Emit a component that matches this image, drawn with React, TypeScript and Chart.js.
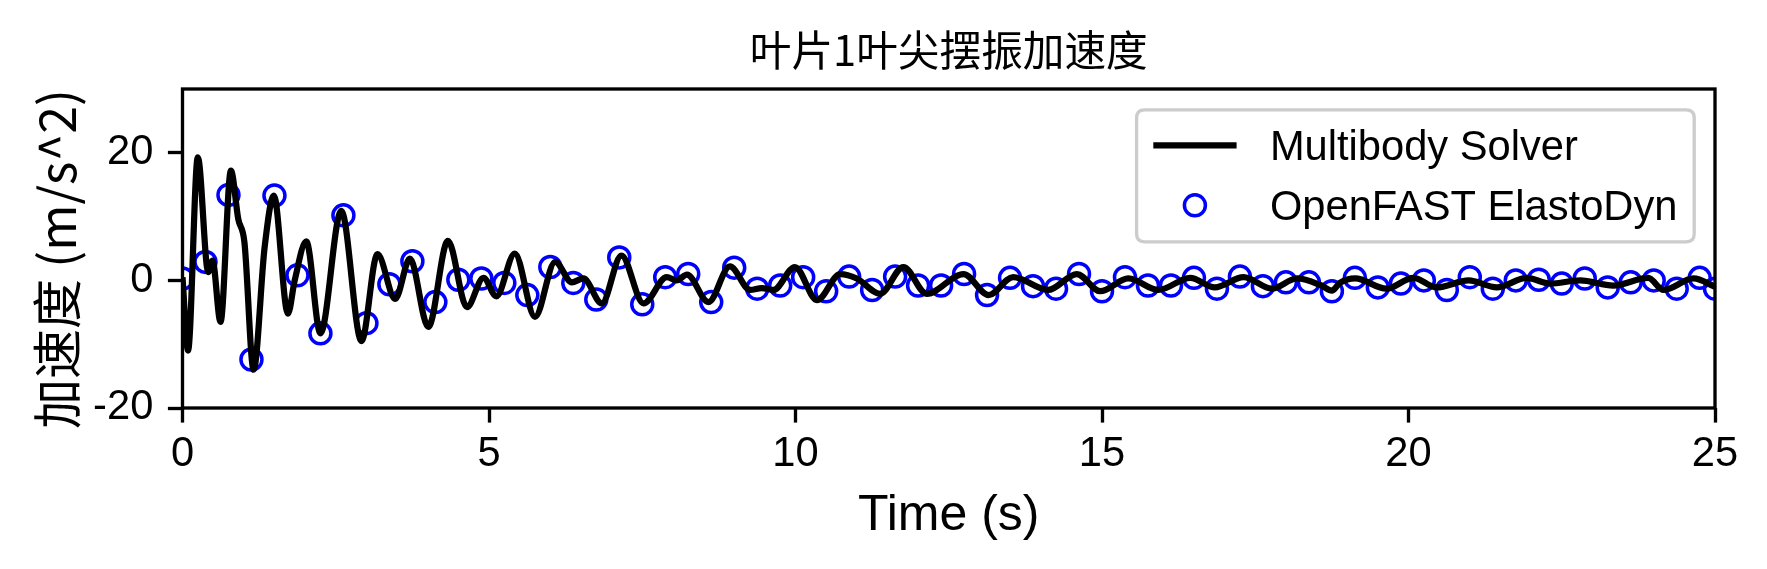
import React, { useEffect, useRef } from "react";
import { Chart, registerables } from "chart.js";

Chart.register(...registerables);

const titleText = "叶片1叶尖摆振加速度";
const xLabel = "Time (s)";
const yLabel = "加速度 (m/s^2)";
const lineLabel = "Multibody Solver";
const scatterLabel = "OpenFAST ElastoDyn";

const xTicks = [0, 5, 10, 15, 20, 25];
const yTicks = [-20, 0, 20];

const lineTime = [
  0, 0.09, 0.25, 0.42, 0.49, 0.62, 0.79, 0.91, 1.01, 1.16,
  1.34, 1.49, 1.72, 1.83, 2.02, 2.25, 2.59, 2.92, 3.18, 3.47,
  3.71, 4.01, 4.33, 4.64, 4.91, 5.12, 5.42, 5.75, 6.08, 6.35,
  6.54, 6.84, 7.16, 7.52, 7.9, 8.06, 8.23, 8.58, 8.93, 9.26,
  9.45, 9.64, 9.99, 10.35, 10.73, 11.0, 11.38, 11.76, 12.14, 12.74,
  13.15, 13.55, 14.12, 14.59, 14.97, 15.43, 15.92, 16.44, 16.84, 17.31,
  17.77, 18.18, 18.58, 18.75, 18.88, 19.13, 19.64, 20.08, 20.46, 20.98,
  21.44, 21.93, 22.31, 22.8, 23.34, 23.91, 24.16, 24.65, 25.0,
];
const lineAccel = [
  0.5, -11, 19.3, 1.3, 3.1, -6.5, 17.2, 9.6, 6.0, -14,
  5.2, 13.3, -5.2, 0, 6.1, -8.3, 10.9, -9.5, 4.1, -2.9,
  3.4, -7.3, 6.2, -4.2, 0.4, -2.5, 4.2, -5.7, 2.9, -0.3,
  0.3, -3.6, 3.9, -3.6, 0.5, 0.0, 0.9, -3.4, 2.2, -1.5,
  -1.2, -1.5, 2.1, -3.1, 1.0, 0.3, -2.1, 2.1, -2.1, 1.0,
  -2.3, 0.5, -1.5, 1.0, -1.7, 0.3, -1.5, 0.4, -1.1, 0.5,
  -1.3, 0.3, -0.8, -1.6, -0.4, 0.3, -1.3, 0.4, -1.1, 0,
  -1.1, 0.4, -0.5, 0, -0.8, 0.4, -1.5, 0.3, -1.0,
];

const scatterTime = [
  0, 0.375, 0.75, 1.125, 1.5, 1.875, 2.25, 2.625, 3, 3.375,
  3.75, 4.125, 4.5, 4.875, 5.25, 5.625, 6, 6.375, 6.75, 7.125,
  7.5, 7.875, 8.25, 8.625, 9, 9.375, 9.75, 10.125, 10.5, 10.875,
  11.25, 11.625, 12, 12.375, 12.75, 13.125, 13.5, 13.875, 14.25, 14.625,
  15, 15.375, 15.75, 16.125, 16.5, 16.875, 17.25, 17.625, 18, 18.375,
  18.75, 19.125, 19.5, 19.875, 20.25, 20.625, 21, 21.375, 21.75, 22.125,
  22.5, 22.875, 23.25, 23.625, 24, 24.375, 24.75, 25,
];
const scatterAccel = [
  0.3, 2.9, 13.4, -12.4, 13.3, 0.8, -8.3, 10.2, -6.7, -0.6,
  3.0, -3.4, 0.1, 0.3, -0.4, -2.3, 2.1, -0.4, -3.0, 3.6,
  -3.75, 0.5, 1.0, -3.4, 2.0, -1.3, -0.8, 0.5, -1.7, 0.6,
  -1.5, 0.6, -0.8, -0.8, 1.0, -2.3, 0.4, -0.9, -1.3, 1.0,
  -1.7, 0.5, -0.8, -0.8, 0.4, -1.3, 0.6, -0.9, -0.3, -0.3,
  -1.7, 0.4, -1.1, -0.5, 0.0, -1.5, 0.5, -1.3, 0.0, 0.1,
  -0.5, 0.3, -1.1, -0.3, 0.0, -1.3, 0.4, -1.3,
];

const SANS = "'Liberation Sans', Arial, sans-serif";
const CJK = "'Noto Sans CJK SC', sans-serif";
const TICK_PX = 41.67;

const framePlugin = {
  id: "frameBox",
  afterDatasetsDraw(chart: any) {
    const { ctx, chartArea } = chart;
    ctx.save();
    ctx.strokeStyle = "#000";
    ctx.lineWidth = 3.33;
    ctx.strokeRect(chartArea.left, chartArea.top, chartArea.right - chartArea.left, chartArea.bottom - chartArea.top);
    ctx.restore();
  },
};

const textPlugin = {
  id: "texts",
  afterDraw(chart: any) {
    const { ctx, chartArea } = chart;
    ctx.save();
    ctx.fillStyle = "#000";
    // title centred over the axes
    ctx.font = `${TICK_PX}px ${CJK}`;
    ctx.textAlign = "center";
    ctx.textBaseline = "middle";
    ctx.fillText(titleText, (chartArea.left + chartArea.right) / 2, 50);
    // y-axis label
    ctx.translate(57, 259);
    ctx.rotate(-Math.PI / 2);
    ctx.font = `50px ${CJK}`;
    ctx.fillText(yLabel, 0, 0);
    ctx.restore();
  },
};

const legendPlugin = {
  id: "boxLegend",
  afterDraw(chart: any) {
    const { ctx, chartArea } = chart;
    const ds = chart.data.datasets;
    const w = 557.6;
    const h = 132;
    const x = chartArea.right - 20.8 - w;
    const y = chartArea.top + 20.8;
    ctx.save();
    const r = 8;
    ctx.beginPath();
    ctx.moveTo(x + r, y);
    ctx.lineTo(x + w - r, y);
    ctx.quadraticCurveTo(x + w, y, x + w, y + r);
    ctx.lineTo(x + w, y + h - r);
    ctx.quadraticCurveTo(x + w, y + h, x + w - r, y + h);
    ctx.lineTo(x + r, y + h);
    ctx.quadraticCurveTo(x, y + h, x, y + h - r);
    ctx.lineTo(x, y + r);
    ctx.quadraticCurveTo(x, y, x + r, y);
    ctx.closePath();
    ctx.fillStyle = "rgba(255,255,255,0.8)";
    ctx.fill();
    ctx.strokeStyle = "#cccccc";
    ctx.lineWidth = 3.33;
    ctx.stroke();

    const row1 = y + 35.5;
    const row2 = y + 95.5;
    ctx.beginPath();
    ctx.moveTo(x + 16.7, row1);
    ctx.lineTo(x + 100, row1);
    ctx.strokeStyle = ds[0].borderColor;
    ctx.lineWidth = 6.25;
    ctx.stroke();
    ctx.beginPath();
    ctx.arc(x + 58.3, row2, 10.5, 0, Math.PI * 2);
    ctx.strokeStyle = ds[1].borderColor;
    ctx.lineWidth = 3.5;
    ctx.stroke();

    ctx.fillStyle = "#000";
    ctx.font = `${TICK_PX}px ${SANS}`;
    ctx.textAlign = "left";
    ctx.textBaseline = "alphabetic";
    ctx.fillText(ds[0].label, x + 133.3, row1 + 14.9);
    ctx.fillText(ds[1].label, x + 133.3, row2 + 14.9);
    ctx.restore();
  },
};

export default function App() {
  const canvasRef = useRef<HTMLCanvasElement | null>(null);

  useEffect(() => {
    const canvas = canvasRef.current;
    if (!canvas) return;
    const tickGrid = {
      drawOnChartArea: false,
      drawTicks: true,
      tickLength: 14.6,
      tickWidth: 3.33,
      tickColor: "#000",
    };
    const chart = new Chart(canvas, {
      type: "line",
      data: {
        datasets: [
          {
            type: "line",
            label: lineLabel,
            data: lineTime.map((t, i) => ({ x: t, y: lineAccel[i] })),
            borderColor: "#000000",
            borderWidth: 6.25,
            pointRadius: 0,
            fill: false,
            cubicInterpolationMode: "monotone",
            clip: 0,
          } as any,
          {
            type: "scatter",
            label: scatterLabel,
            data: scatterTime.map((t, i) => ({ x: t, y: scatterAccel[i] })),
            borderColor: "#0000ff",
            backgroundColor: "rgba(0,0,0,0)",
            borderWidth: 3.5,
            pointRadius: 10.5,
            pointStyle: "circle",
            showLine: false,
            clip: 0,
          } as any,
        ],
      },
      options: {
        animation: false,
        responsive: false,
        devicePixelRatio: 1,
        layout: { padding: { left: 0, right: 52, top: 89, bottom: 0 } },
        plugins: {
          legend: { display: false },
          tooltip: { enabled: false },
          title: { display: false },
        },
        scales: {
          x: {
            type: "linear",
            min: 0,
            max: 25,
            afterBuildTicks: (scale: any) => {
              scale.ticks = xTicks.map((v) => ({ value: v }));
            },
            afterFit: (scale: any) => {
              scale.height = 161;
            },
            ticks: {
              color: "#000",
              font: { family: SANS, size: TICK_PX },
              padding: 7,
              maxRotation: 0,
              callback: (v: any) => String(v),
            },
            grid: tickGrid,
            border: { display: false },
            title: {
              display: true,
              text: xLabel,
              color: "#000",
              font: { family: SANS, size: 50 },
              padding: { top: 0, bottom: 23 },
            },
          },
          y: {
            type: "linear",
            min: -20,
            max: 30,
            afterBuildTicks: (scale: any) => {
              scale.ticks = yTicks.map((v) => ({ value: v }));
            },
            afterFit: (scale: any) => {
              scale.width = 182.5;
            },
            ticks: {
              color: "#000",
              font: { family: SANS, size: TICK_PX },
              padding: 14.6,
              callback: (v: any) => String(v),
            },
            grid: tickGrid,
            border: { display: false },
            title: { display: false },
          },
        },
      },
      plugins: [framePlugin, textPlugin, legendPlugin],
    } as any);
    return () => chart.destroy();
  }, []);

  return (
    <div style={{ position: "absolute", left: 0, top: 0, width: 1767, height: 569, background: "#fff" }}>
      <canvas ref={canvasRef} width={1767} height={569} />
    </div>
  );
}
